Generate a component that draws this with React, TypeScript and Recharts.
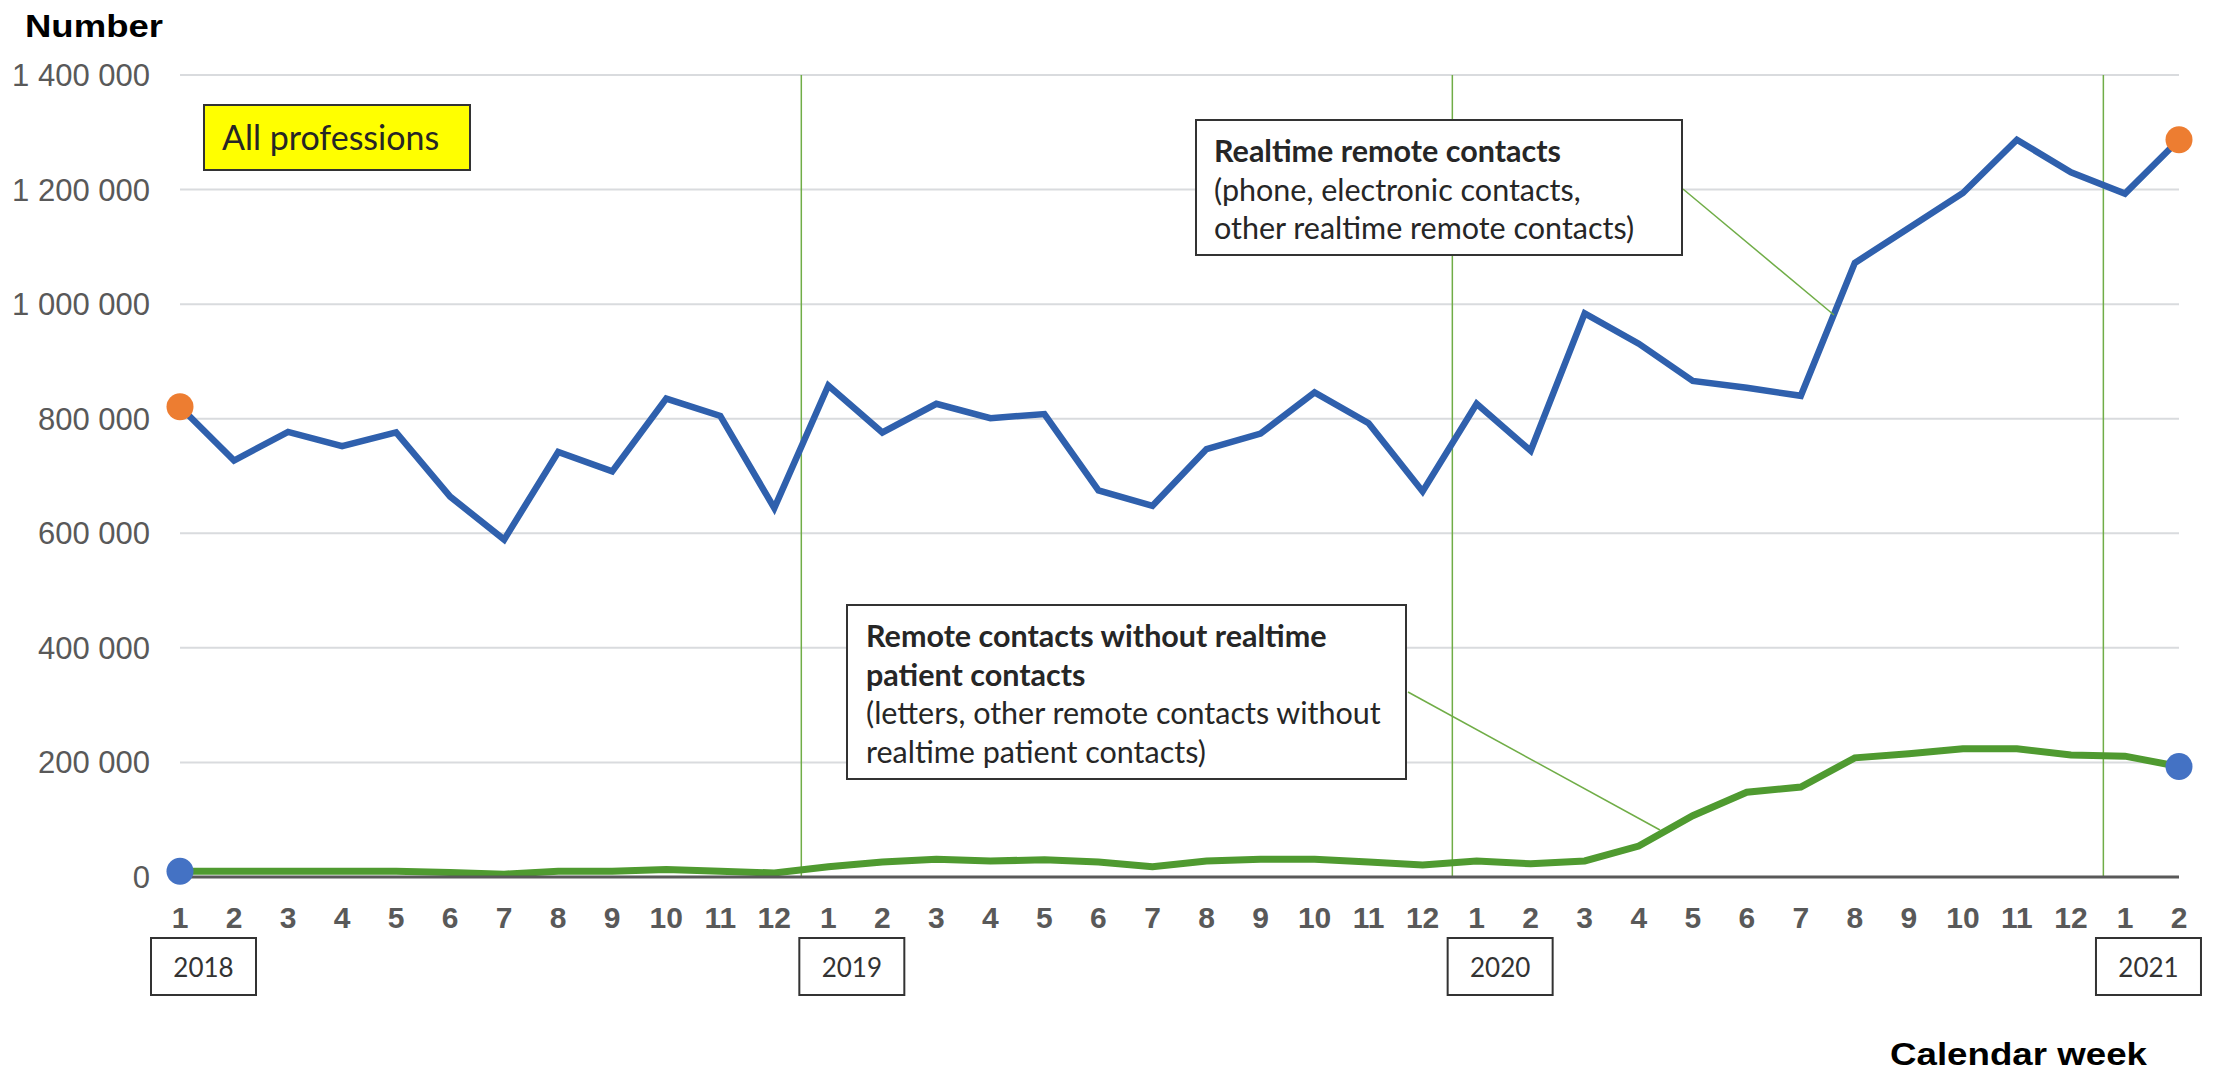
import React from 'react'
import { LineChart, Line, XAxis, YAxis, CartesianGrid, ReferenceLine } from 'recharts'

// month of each point (2018-01 .. 2021-02)
const monthLabels = [
  '1', '2', '3', '4', '5', '6', '7', '8', '9', '10', '11', '12',
  '1', '2', '3', '4', '5', '6', '7', '8', '9', '10', '11', '12',
  '1', '2', '3', '4', '5', '6', '7', '8', '9', '10', '11', '12',
  '1', '2',
]
const yearLabels = ['2018', '2019', '2020', '2021']

const realtimeContacts = [
  821000, 727000, 777000, 752000, 776000, 664000, 589000, 742000, 708000, 835000, 805000, 644000,
  858000, 776000, 826000, 801000, 808000, 675000, 648000, 747000, 774000, 846000, 792000, 673000,
  826000, 744000, 984000, 931000, 866000, 854000, 840000, 1072000, 1133000, 1194000, 1287000, 1230000,
  1193000, 1287000,
]

const nonRealtimeContacts = [
  10000, 10000, 10000, 10000, 10000, 8000, 5000, 10000, 10000, 13000, 10000, 7000,
  18000, 26000, 31000, 28000, 30000, 26000, 18000, 28000, 31000, 31000, 26000, 21000,
  28000, 23000, 28000, 54000, 107000, 148000, 157000, 208000, 215000, 224000, 224000, 213000,
  211000, 193000,
]

const yTicks = [0, 200000, 400000, 600000, 800000, 1000000, 1200000, 1400000]
// year boundaries, in point index units
const yearDividers = [11.5, 23.55, 35.6]

const data = monthLabels.map((month, idx) => ({
  idx,
  month,
  realtime: realtimeContacts[idx],
  nonRealtime: nonRealtimeContacts[idx],
}))
const xTicks = data.map((d) => d.idx)
const yearStarts = monthLabels.map((m, i) => (m === '1' ? i : -1)).filter((i) => i >= 0)
const lastIdx = data.length - 1

const formatY = (v: number) => String(v).replace(/\B(?=(\d{3})+(?!\d))/g, ' ')

const MonthTick = (props: any) => {
  const { x, y, payload } = props
  const i = payload.value
  const yearPos = yearStarts.indexOf(i)
  return (
    <g>
      <text x={x} y={y + 51} textAnchor="middle" fill="#595959" fontSize={30} fontWeight="bold"
        fontFamily="'Liberation Sans', Arial, sans-serif">
        {monthLabels[i]}
      </text>
      {yearPos >= 0 && (
        <g>
          <rect x={x - 29} y={y + 61} width={105} height={57} fill="#fff" stroke="#333" strokeWidth={2} />
          <text x={x + 23.5} y={y + 100} textAnchor="middle" fill="#333" fontSize={26} fontFamily="Lato, sans-serif">
            {yearLabels[yearPos]}
          </text>
        </g>
      )}
    </g>
  )
}

const endDot = (color: string) => (props: any) => {
  const { cx, cy, index } = props
  if (index === 0 || index === lastIdx) {
    return <circle key={`d${index}`} cx={cx} cy={cy} r={13.5} fill={color} stroke="none" />
  }
  return <g key={`d${index}`} />
}

const box: React.CSSProperties = {
  position: 'absolute',
  boxSizing: 'border-box',
  border: '2px solid #333',
  background: '#fff',
  fontFamily: 'Lato, sans-serif',
  color: '#262626',
  fontSize: 30.5,
  lineHeight: '38.5px',
  whiteSpace: 'nowrap',
}

export default function App() {
  return (
    <div style={{ position: 'absolute', left: 0, top: 0, width: 2216, height: 1074, background: '#fff' }}>
      <LineChart width={2216} height={1074} data={data} margin={{ top: 75, right: 37, bottom: 137, left: 0 }}>
        <CartesianGrid vertical={false} stroke="#D9DBDE" strokeWidth={2} />
        <XAxis
          dataKey="idx"
          type="number"
          domain={[0, lastIdx]}
          ticks={xTicks}
          interval={0}
          height={60}
          axisLine={{ stroke: '#595959', strokeWidth: 3 }}
          tickLine={false}
          tickSize={0}
          tickMargin={0}
          tick={<MonthTick />}
        />
        <YAxis
          domain={[0, 1400000]}
          ticks={yTicks}
          width={180}
          axisLine={false}
          tickLine={false}
          tickMargin={24}
          tickFormatter={formatY}
          tick={{ fill: '#595959', fontSize: 31, fontFamily: "'Liberation Sans', Arial, sans-serif" }}
        />
        {yearDividers.map((x) => (
          <ReferenceLine key={x} x={x} stroke="#70AD47" strokeWidth={1.5} />
        ))}
        <Line
          type="linear"
          dataKey="nonRealtime"
          stroke="#4F9A30"
          strokeWidth={7}
          dot={endDot('#4472C4')}
          activeDot={false}
          isAnimationActive={false}
        />
        <Line
          type="linear"
          dataKey="realtime"
          stroke="#2F60AD"
          strokeWidth={6.5}
          dot={endDot('#ED7D31')}
          activeDot={false}
          isAnimationActive={false}
        />
      </LineChart>

      <svg width={2216} height={1074} style={{ position: 'absolute', left: 0, top: 0, pointerEvents: 'none' }}>
        <line x1={1683} y1={189} x2={1834} y2={315} stroke="#70AD47" strokeWidth={1.5} />
        <line x1={1408} y1={692} x2={1660} y2={830} stroke="#70AD47" strokeWidth={1.5} />
        <text x={25} y={37} fontSize={31} fontWeight="bold" fill="#000" textLength={138} lengthAdjust="spacingAndGlyphs"
          fontFamily="'Liberation Sans', Arial, sans-serif">
          Number
        </text>
        <text x={1890} y={1065} fontSize={31} fontWeight="bold" fill="#000" textLength={257} lengthAdjust="spacingAndGlyphs"
          fontFamily="'Liberation Sans', Arial, sans-serif">
          Calendar week
        </text>
      </svg>

      <div style={{ ...box, left: 203, top: 104, width: 268, height: 67, background: '#FFFF00', fontSize: 34,
        paddingLeft: 17, display: 'flex', alignItems: 'center' }}>
        All professions
      </div>

      <div style={{ ...box, left: 1195, top: 119, width: 488, height: 137, padding: '10px 17px' }}>
        <b>Realtime remote contacts</b>
        <br />
        (phone, electronic contacts,
        <br />
        other realtime remote contacts)
      </div>

      <div style={{ ...box, left: 846, top: 604, width: 561, height: 176, padding: '10px 18px' }}>
        <b>Remote contacts without realtime</b>
        <br />
        <b>patient contacts</b>
        <br />
        (letters, other remote contacts without
        <br />
        realtime patient contacts)
      </div>
    </div>
  )
}
